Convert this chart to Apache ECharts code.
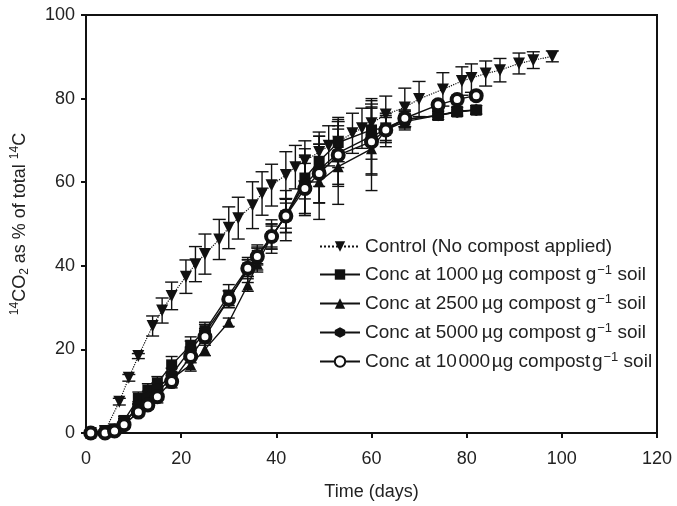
<!DOCTYPE html>
<html><head><meta charset="utf-8">
<script src="https://cdn.jsdelivr.net/npm/echarts@6/dist/echarts.min.js"></script>
<style>html,body{margin:0;padding:0;background:#fff}#c{width:677px;height:506px}</style>
</head><body><div id="c"></div>
<script>
// ---- data ----
const ctrlDays = [1, 4, 7, 9, 11, 14, 16, 18, 21, 23, 25, 28, 30, 32, 35, 37, 39, 42, 44, 46, 49, 51, 53, 56, 58, 60, 63, 67, 70, 75, 79, 81, 84, 87, 91, 94, 98];
const ctrlVals = [0, 0.5, 7.5, 13.2, 18.4, 25.6, 29.3, 32.8, 37.4, 40.4, 42.8, 46.3, 49.1, 51.4, 54.5, 57.3, 59.3, 61.7, 63.6, 65.1, 67.2, 68.7, 69.7, 71.7, 72.9, 74.1, 76.2, 77.9, 79.9, 82.2, 84.2, 84.9, 86.0, 86.8, 88.4, 89.2, 90.1];
const ctrlErr  = [0, 0.3, 0.8, 0.8, 0.6, 2.4, 3, 3.3, 4, 4.2, 4.8, 4.8, 5, 5, 5.6, 5.2, 5, 5.6, 5.2, 4.8, 4.8, 4.8, 4.8, 4.8, 4.8, 4.6, 4.4, 4.6, 4.2, 4, 3.4, 3.4, 3, 2.8, 2.5, 2, 1.3];

const compDays = [1, 4, 6, 8, 11, 13, 15, 18, 22, 25, 30, 34, 36, 39, 42, 46, 49, 53, 60, 63, 67, 74, 78, 82];
const c1000  = [0, 0.5, 1, 3, 8.3, 10.3, 12, 16.3, 21, 24.5, 33, 39.5, 42.5, 47, 52, 61, 65, 69.5, 72.5, 73, 75, 76, 77, 77.3];
const c2500  = [0, 0.3, 0.8, 2.5, 6, 8, 10, 13, 16.3, 20, 26.5, 35.4, 40.5, 47, 52, 60, 60.1, 63.7, 68, 72.5, 74.5, 76, 76.8, 77.3];
const c5000  = [0, 0.3, 0.8, 2.5, 6.5, 8.5, 10.5, 14, 20, 24, 32, 39, 42, 47, 52, 59.5, 63, 67, 71, 72.5, 75, 76, 76.8, 77.3];
const c10000 = [0, 0, 0.5, 2, 5, 6.7, 8.7, 12.3, 18.3, 23, 32, 39.4, 42.2, 47, 51.9, 58.5, 62.1, 66.5, 69.7, 72.5, 75.3, 78.5, 79.8, 80.7];
const e1000  = [0, 0.3, 0.5, 1, 1.5, 1.5, 1.5, 2, 2, 2, 2.5, 2, 2, 2.5, 3, 5, 6, 6, 7, 3, 2, 1, 1, 1];
const e2500  = [0, 0.3, 0.5, 1, 1, 1, 1, 1.5, 1.5, 1.5, 1, 1.5, 2, 3, 4, 8, 9, 9, 10, 4, 2, 1, 1, 1];
const e5000  = [0, 0.3, 0.5, 1, 1, 1.5, 1.5, 1.5, 2, 2, 2, 3, 3, 4, 6, 7, 8, 8, 9, 3, 2, 1, 1, 1];
const e10000 = [0, 0.2, 0.5, 1, 1, 1, 1.5, 1.5, 1.5, 2, 2, 2, 2, 3, 4, 6, 7, 7, 8, 3, 2, 1, 1, 1];

const xTicks = [0, 20, 40, 60, 80, 100, 120];
const yTicks = [0, 20, 40, 60, 80, 100];

const names = ['Control (No compost applied)', 'Conc at 1000 µg compost g-1 soil', 'Conc at 2500 µg compost g-1 soil', 'Conc at 5000 µg compost g-1 soil', 'Conc at 10000 µg compost g-1 soil'];
const legendRich = {
  'Control (No compost applied)': '{a|Control (No compost applied)}',
  'Conc at 1000 µg compost g-1 soil': '{a|Conc at 1000\u2009µg compost g}{s|\u22121}{a| soil}',
  'Conc at 2500 µg compost g-1 soil': '{a|Conc at 2500\u2009µg compost g}{s|\u22121}{a| soil}',
  'Conc at 5000 µg compost g-1 soil': '{a|Conc at 5000\u2009µg compost g}{s|\u22121}{a| soil}',
  'Conc at 10000 µg compost g-1 soil': '{a|Conc at 10\u200a000\u200aµg compost\u200ag}{s|\u22121}{a| soil}'
};

function zip3(d, v, e) { return d.map((x, i) => [x, v[i], e[i]]); }
function zip2(d, v) { return d.map((x, i) => [x, v[i]]); }

function errSeries(id, d, v, e, half) {
  return {
    type: 'custom', name: id, z: 1, silent: true,
    data: zip3(d, v, e),
    encode: { x: 0, y: 1 },
    renderItem: function (params, api) {
      const x = api.value(0), y = api.value(1), er = api.value(2);
      if (!er) return null;
      const t = api.coord([x, y + er]);
      const b = api.coord([x, y - er]);
      const st = { stroke: '#111', lineWidth: 1.4 };
      return { type: 'group', children: [
        { type: 'line', shape: { x1: t[0], y1: t[1], x2: b[0], y2: b[1] }, style: st },
        { type: 'line', shape: { x1: t[0] - half, y1: t[1], x2: t[0] + half, y2: t[1] }, style: st },
        { type: 'line', shape: { x1: b[0] - half, y1: b[1], x2: b[0] + half, y2: b[1] }, style: st }
      ]};
    }
  };
}

const hexPath = 'path://M0,-10 L8.66,-5 L8.66,5 L0,10 L-8.66,5 L-8.66,-5 Z';

function lineSeries(name, d, v, symbol, size, itemStyle, lineStyle) {
  return {
    type: 'line', name: name, data: zip2(d, v), z: 3,
    symbol: symbol, symbolSize: size, showSymbol: true,
    itemStyle: itemStyle, lineStyle: lineStyle, animation: false
  };
}

const font = 'Liberation Sans, Arial, sans-serif';
const chart = echarts.init(document.getElementById('c'));
chart.setOption({
  animation: false,
  backgroundColor: '#fff',
  grid: { left: 86, right: 20, top: 15, bottom: 73, show: true, borderColor: '#111', borderWidth: 2, backgroundColor: 'transparent' },
  xAxis: {
    type: 'value', min: xTicks[0], max: xTicks[xTicks.length - 1], interval: 20,
    name: 'Time (days)', nameLocation: 'middle', nameGap: 50,
    nameTextStyle: { fontFamily: font, fontSize: 18, color: '#222' },
    axisLine: { lineStyle: { color: '#111', width: 2 } },
    axisTick: { show: true, inside: false, length: 5, lineStyle: { color: '#111', width: 2 } },
    axisLabel: { fontFamily: font, fontSize: 18, color: '#222', margin: 17 },
    splitLine: { show: false }
  },
  yAxis: {
    type: 'value', min: yTicks[0], max: yTicks[yTicks.length - 1], interval: 20,
    name: '{s|14}{a|CO}{b|2}{a| as % of total }{s|14}{a|C}', nameLocation: 'middle', nameGap: 54,
    nameTextStyle: {
      fontFamily: font, fontSize: 18, color: '#222',
      rich: {
        a: { fontFamily: font, fontSize: 18, color: '#222', lineHeight: 24 },
        s: { fontFamily: font, fontSize: 12, color: '#222', lineHeight: 24, padding: [0, 0, 10, 0] },
        b: { fontFamily: font, fontSize: 12, color: '#222', lineHeight: 24, padding: [10, 0, 0, 0] }
      }
    },
    axisLine: { show: true, lineStyle: { color: '#111', width: 2 } },
    axisTick: { show: true, inside: false, length: 5, lineStyle: { color: '#111', width: 2 } },
    axisLabel: { fontFamily: font, fontSize: 18, color: '#222', margin: 11 },
    splitLine: { show: false }
  },
  legend: {
    data: names, orient: 'vertical', left: 314, top: 232,
    itemWidth: 40, itemHeight: 13, itemGap: 8,
    formatter: function (n) { return legendRich[n]; },
    textStyle: {
      fontFamily: font, fontSize: 19, color: '#222',
      rich: {
        a: { fontFamily: font, fontSize: 19, color: '#222', lineHeight: 20 },
        s: { fontFamily: font, fontSize: 13, color: '#222', lineHeight: 12, padding: [0, 0, 8, 1] }
      }
    }
  },
  series: [
    errSeries('errCtrl', ctrlDays, ctrlVals, ctrlErr, 6.5),
    errSeries('err1000', compDays, c1000, e1000, 6),
    errSeries('err2500', compDays, c2500, e2500, 6),
    errSeries('err5000', compDays, c5000, e5000, 6),
    errSeries('err10000', compDays, c10000, e10000, 6),
    lineSeries(names[0], ctrlDays, ctrlVals, 'triangle', 12, { color: '#111' }, { color: '#111', width: 1.2, type: 'dotted' }),
    lineSeries(names[1], compDays, c1000, 'rect', 11, { color: '#111' }, { color: '#111', width: 1.4 }),
    lineSeries(names[2], compDays, c2500, 'triangle', 11, { color: '#111' }, { color: '#111', width: 1.4 }),
    lineSeries(names[3], compDays, c5000, hexPath, 12, { color: '#111' }, { color: '#111', width: 1.4 }),
    lineSeries(names[4], compDays, c10000, 'circle', 11, { color: '#fff', borderColor: '#111', borderWidth: 4 }, { color: '#111', width: 1.4 })
  ]
});
// control triangles point down
chart.setOption({ series: [{}, {}, {}, {}, {}, { symbolRotate: 180 }] });
</script>
</body></html>
